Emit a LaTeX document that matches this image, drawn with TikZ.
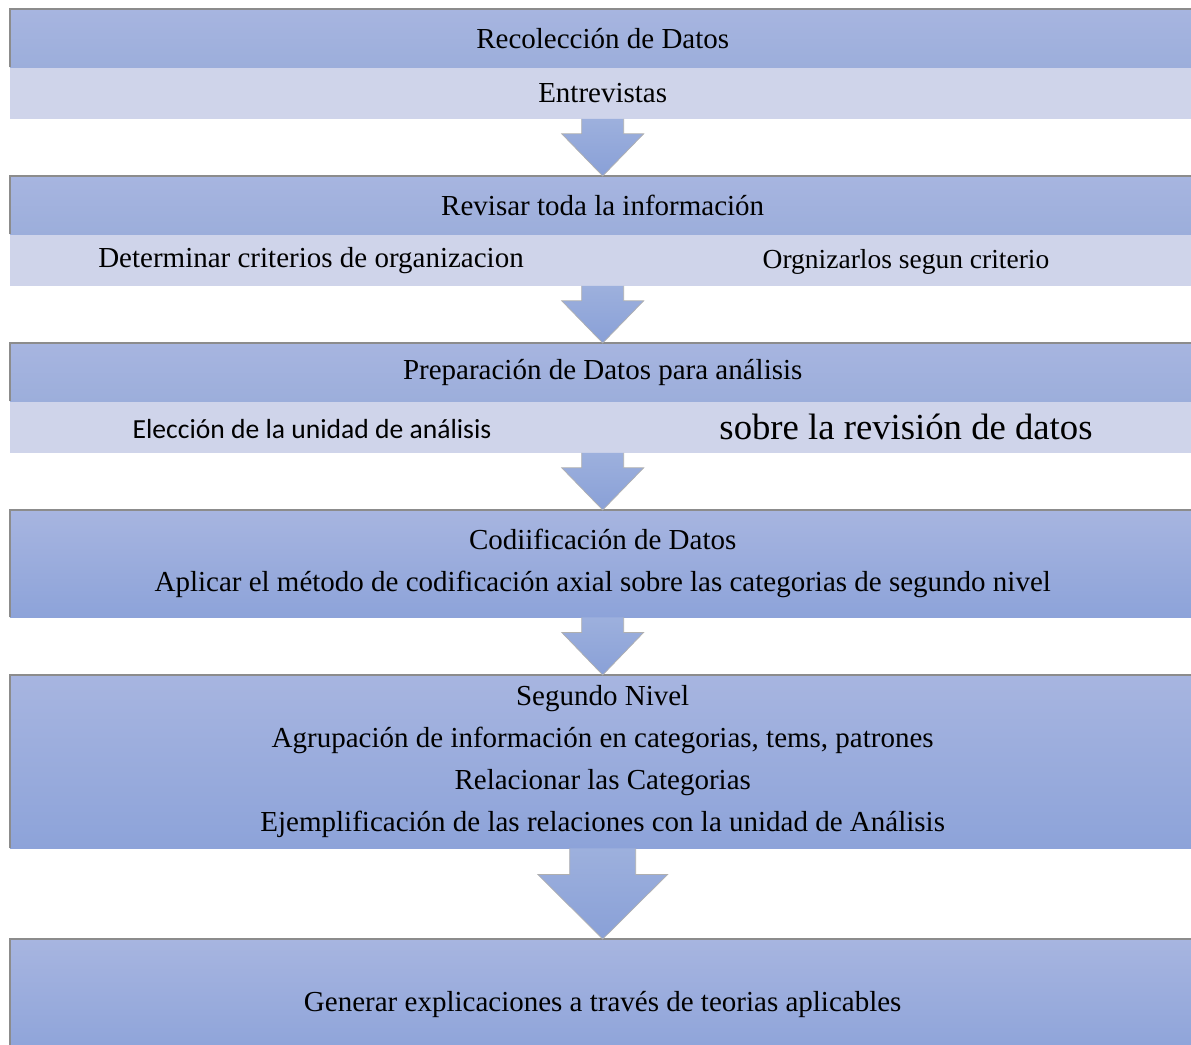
\documentclass[tikz,border=0pt]{standalone}
\usepackage{fontspec}
\setmainfont{Liberation Serif}
\newfontfamily\calibri{Carlito}
\usetikzlibrary{positioning,calc}
\definecolor{hdrtop}{HTML}{A7B5E0}
\definecolor{hdrbot}{HTML}{9CAEDB}
\definecolor{boxbot}{HTML}{8DA3D9}
\definecolor{bandfill}{HTML}{CFD4EA}
\definecolor{arrtop}{HTML}{9DB0DD}
\definecolor{arrbot}{HTML}{89A0D7}
\definecolor{rim}{HTML}{8C8C8C}
\tikzset{
  hdr/.style={minimum width=1185pt, inner sep=0pt, top color=hdrtop, bottom color=hdrbot,
    font=\fontsize{29}{42}\selectfont, align=center},
  tallbox/.style={hdr, bottom color=boxbot, execute at begin node={\rule{0pt}{32pt}}},
  band/.style={minimum width=1185pt, minimum height=51pt, inner sep=0pt, fill=bandfill,
    font=\fontsize{29}{35}\selectfont},
  txt/.style={inner sep=0pt, font=\fontsize{29}{35}\selectfont},
  rimline/.style={draw=rim, line width=1.2pt},
  blk/.style={top color=arrtop, bottom color=arrbot, draw=rim!70, line width=0.7pt, line join=miter}
}
\begin{document}
\begin{tikzpicture}[x=1pt,y=-1pt]
\useasboundingbox (0,0) rectangle (1191,1044);
% stages
\node[hdr, minimum height=58pt, anchor=north west] (h1) at (10,9) {Recolección de Datos};
\node[band, below=0pt of h1] (b1) {Entrevistas};
\node[hdr, minimum height=58pt, anchor=north west] (h2) at (10,176) {Revisar toda la información};
\node[band, below=0pt of h2] (b2) {};
\node[hdr, minimum height=58pt, anchor=north west] (h3) at (10,343) {Preparación de Datos para análisis};
\node[band, below=0pt of h3] (b3) {};
\node[tallbox, minimum height=107pt, anchor=north west] (h4) at (10,510)
  {Codiificación de Datos\\Aplicar el método de codificación axial sobre las categorias de segundo nivel};
\node[tallbox, minimum height=173pt, anchor=north west] (h5) at (10,675)
  {Segundo Nivel\\Agrupación de información en categorias, tems, patrones\\Relacionar las Categorias\\Ejemplificación de las relaciones con la unidad de Análisis};
\node[tallbox, minimum height=118pt, anchor=north west] (h6) at (10,939)
  {Generar explicaciones a través de teorias aplicables};
% texts in the bands
\node[txt] (t2a) at ($(b2.west)+(301,0)$) {Determinar criterios de organizacion};
\node[txt, font=\fontsize{27.5}{33}\selectfont] (t2b) at ($(b2.west)+(896,2)$) {Orgnizarlos segun criterio};
\node[txt, font=\calibri\fontsize{27.6}{33}\selectfont] (t3a) at ($(b3.west)+(302,2)$) {Elección de la unidad de análisis};
\node[txt, font=\fontsize{36.7}{44}\selectfont] (t3b) at ($(b3.west)+(896,0)$) {sobre la revisión de datos};
% edges
\foreach \h in {h1,h2,h3,h4,h5,h6}
  \draw[rimline] (\h.south west) |- (\h.north east);
% arrows
\foreach \a/\b in {b1/h2, b2/h3, b3/h4, h4/h5}
  \draw[blk] ($(\a.south)+(-21,0)$) -- ++(0,15) -- ++(-20,0) -- (\b.north)
    -- ($(\a.south)+(41,15)$) -- ++(-20,0) -- ++(0,-15);
\draw[blk] ($(h5.south)+(-33,0)$) -- ++(0,26) -- ++(-32,0) -- (h6.north)
  -- ($(h5.south)+(65,26)$) -- ++(-32,0) -- ++(0,-26);
\end{tikzpicture}
\end{document}
